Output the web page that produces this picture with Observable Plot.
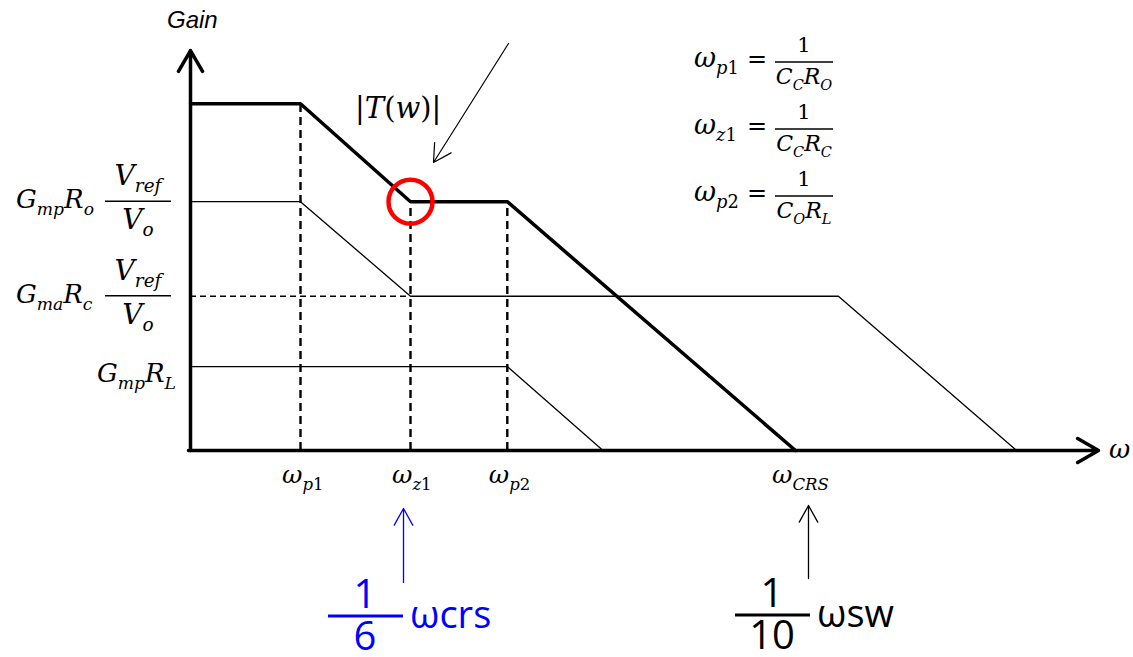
<!DOCTYPE html>
<html><head><meta charset="utf-8">
<script src="https://cdn.jsdelivr.net/npm/d3@7"></script>
<script src="https://cdn.jsdelivr.net/npm/@observablehq/plot@0.6"></script>
<style>html,body{margin:0;padding:0;background:#fff;} #chart svg{display:block;}</style>
</head><body><div id="chart"></div>
<script>
// ---------------- data (log-frequency in decades, gain in dB) ----------------
const breakNames = ["p1", "z1", "p2", "CRS"];
const breakX = [1.0, 2.0, 2.88, 5.5];
const levelNames = ["T0", "GmpRoVref/Vo", "GmaRcVref/Vo", "GmpRL"];
const levelDB = [71.5, 51.3, 31.8, 17.3];
// loop gain |T(w)| (thick)
const loopX = [0, 1.0, 2.0, 2.88, 5.5];
const loopY = [71.5, 71.5, 51.3, 51.3, 0];
// modulator / compensator path (thin)
const modX = [0, 1.0, 2.0, 5.89, 7.51];
const modY = [51.3, 51.3, 31.8, 31.8, 0];
// power stage path (thin)
const pwrX = [0, 2.88, 3.75];
const pwrY = [17.3, 17.3, 0];
// equation table
const eqSub = ["p1", "z1", "p2"];
const eqDen = [["C", "C", "R", "O"], ["C", "C", "R", "C"], ["C", "O", "R", "L"]];

// ---------------- layout ----------------
const W = 1133, H = 657, OX = 190, OY = 450, PX_DEC = 110, PX_DB = 4.85;
const xAt = px => (px - OX) / PX_DEC;
const yAt = px => (OY - px) / PX_DB;
const pts = (xs, ys) => xs.map((x, i) => ({x, y: ys[i]}));

const vDash = [
  {x: breakX[0], y: levelDB[0]},
  {x: breakX[1], y: levelDB[1]},
  {x: breakX[2], y: levelDB[1]}
];

const chart = Plot.plot({
  width: W, height: H, margin: 0,
  x: {domain: [xAt(0), xAt(W)], axis: null},
  y: {domain: [yAt(H), yAt(0)], axis: null},
  marks: [
    Plot.ruleX(vDash, {x: "x", y1: () => 0, y2: "y", stroke: "black", strokeWidth: 2.4, strokeDasharray: "8,5"}),
    Plot.ruleY([levelDB[2]], {y: d => d, x1: () => 0, x2: () => breakX[1], stroke: "black", strokeWidth: 1.4, strokeDasharray: "6,4"}),
    Plot.line(pts(modX, modY), {x: "x", y: "y", stroke: "black", strokeWidth: 1.3, strokeLinejoin: "miter"}),
    Plot.line(pts(pwrX, pwrY), {x: "x", y: "y", stroke: "black", strokeWidth: 1.3, strokeLinejoin: "miter"}),
    Plot.line(pts(loopX, loopY), {x: "x", y: "y", stroke: "black", strokeWidth: 3.5, strokeLinejoin: "miter"}),
    // axes
    Plot.arrow([{x1: 0, y1: 0, x2: 0, y2: yAt(50)}, {x1: xAt(188), y1: 0, x2: xAt(1098), y2: 0}],
      {x1: "x1", y1: "y1", x2: "x2", y2: "y2", stroke: "black", strokeWidth: 3.5, headLength: 10.3, headAngle: 60}),
    // pointer to |T(w)|
    Plot.arrow([{x1: xAt(508), y1: yAt(43), x2: xAt(433), y2: yAt(162)}],
      {x1: "x1", y1: "y1", x2: "x2", y2: "y2", stroke: "black", strokeWidth: 1.2, headLength: 25, headAngle: 58}),
    // bottom pointers
    Plot.arrow([{x1: xAt(403), y1: yAt(582), x2: xAt(403), y2: yAt(508)}],
      {x1: "x1", y1: "y1", x2: "x2", y2: "y2", stroke: "#0000ff", strokeWidth: 1.3, headLength: 22, headAngle: 58}),
    Plot.arrow([{x1: xAt(808), y1: yAt(578), x2: xAt(808), y2: yAt(505)}],
      {x1: "x1", y1: "y1", x2: "x2", y2: "y2", stroke: "black", strokeWidth: 1.3, headLength: 22, headAngle: 58}),
    // red circle at the zero
    Plot.dot([{x: breakX[1], y: levelDB[1]}], {x: "x", y: "y", r: 22, stroke: "#ff0000", strokeWidth: 4.5, fill: "none"})
  ]
});
document.getElementById("chart").appendChild(chart);

// ---------------- math text ----------------
const sx = chart.scale("x"), sy = chart.scale("y");
const svg = d3.select(chart);
const g = svg.append("g").attr("text-anchor", "start").attr("fill", "black");
const MATH = "'DejaVu Serif', serif";
const SANS = "'Open Sans', sans-serif";

// segs: [text, type]; type: i = italic, u = upright, s = italic subscript, S = upright subscript
function rich(x, y, segs, {size, anchor = "start", fill = "black", family = MATH, subScale = 0.66}) {
  const t = g.append("text").attr("x", x).attr("y", y).attr("font-family", family)
    .attr("font-size", size).attr("text-anchor", anchor).attr("fill", fill);
  let shift = 0;
  for (const [s, type = "i"] of segs) {
    const sub = type === "s" || type === "S";
    const target = sub ? size * 0.26 : 0;
    t.append("tspan").attr("dy", target - shift)
      .attr("font-size", sub ? size * subScale : size)
      .attr("font-style", (type === "i" || type === "s") ? "italic" : "normal")
      .text(s);
    shift = target;
  }
  return t;
}
function bar(x1, x2, y, w = 1.5, stroke = "black") {
  g.append("line").attr("x1", x1).attr("x2", x2).attr("y1", y).attr("y2", y)
    .attr("stroke", stroke).attr("stroke-width", w);
}

// axis titles
g.append("text").attr("x", 167).attr("y", 28).attr("font-family", "'Liberation Sans', Arial, sans-serif")
  .attr("font-style", "italic").attr("font-size", 24).attr("text-anchor", "start").text("Gain");
rich(1109, OY + 8, [["ω"]], {size: 26});

// left level labels
[1, 2].forEach((k, j) => {
  const by = sy.apply(levelDB[k]);
  const subs = j === 0 ? ["mp", "o"] : ["ma", "c"];
  rich(16, by + 7, [["G"], [subs[0], "s"], ["R"], [subs[1], "s"]], {size: 26});
  bar(105, 171, by, 1.6);
  rich(138, by - 16, [["V"], ["ref", "s"]], {size: 28, anchor: "middle"});
  rich(138, by + 28, [["V"], ["o", "s"]], {size: 28, anchor: "middle"});
});
rich(176, sy.apply(levelDB[3]) + 16, [["G"], ["mp", "s"], ["R"], ["L", "s"]], {size: 26, anchor: "end"});

// break-frequency labels under the axis
breakNames.forEach((n, i) => {
  const segs = [["ω"]];
  const m = n.match(/^([a-zA-Z]+)(\d*)$/);
  segs.push([m[1], "s"]);
  if (m[2]) segs.push([m[2], "S"]);
  rich(sx.apply(breakX[i]) - (n === "CRS" ? 23 : 18), OY + 33, segs, {size: 25});
});

// |T(w)|
rich(355, 118, [["|", "u"], ["T"], ["(", "u"], ["w"], [")", "u"], ["|", "u"]], {size: 29});

// equations
eqSub.forEach((s, i) => {
  const by = 62 + 67 * i;
  rich(694, by + 5, [["ω"], [s[0], "s"], [s[1], "S"]], {size: 27});
  g.append("text").attr("x", 757).attr("y", by + 5).attr("font-family", MATH).attr("font-size", 24)
    .attr("text-anchor", "middle").text("=");
  bar(775, 833, by, 1.6);
  g.append("text").attr("x", 804).attr("y", by - 10).attr("font-family", MATH).attr("font-size", 21)
    .attr("text-anchor", "middle").text("1");
  const d = eqDen[i];
  rich(804, by + 22, [[d[0]], [d[1], "s"], [d[2]], [d[3], "s"]], {size: 22, anchor: "middle"});
});

// bottom annotations
function bigFrac(cx, num, den, word, color, y0) {
  g.append("text").attr("x", cx).attr("y", y0).attr("font-family", SANS).attr("font-size", 40)
    .attr("text-anchor", "middle").attr("fill", color).text(num);
  bar(cx - 37, cx + 38, y0 + 8, 3, color);
  g.append("text").attr("x", cx).attr("y", y0 + 42).attr("font-family", SANS).attr("font-size", 40)
    .attr("text-anchor", "middle").attr("fill", color).text(den);
  g.append("text").attr("x", cx + 45).attr("y", y0 + 20).attr("font-family", SANS).attr("font-size", 38)
    .attr("text-anchor", "start").attr("fill", color).text(word);
}
bigFrac(sx.apply(breakX[1]) - 45, "1", "6", "ωcrs", "#0000ff", 608);
bigFrac(sx.apply(breakX[3]) - 23, "1", "10", "ωsw", "black", 607);
</script>
</body></html>
